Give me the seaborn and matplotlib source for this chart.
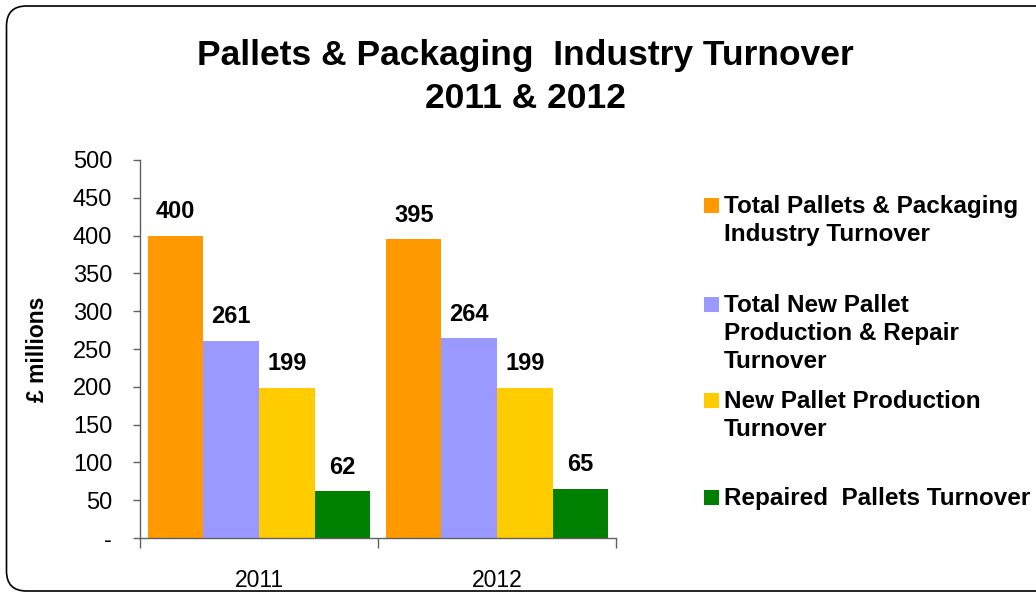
import matplotlib
matplotlib.use("Agg")
import matplotlib.pyplot as plt
from matplotlib.patches import FancyBboxPatch, Rectangle
import seaborn as sns
import pandas as pd

# Turnover figures (GBP millions)
years = ["2011", "2012"]
series = [
    "Total Pallets & Packaging\nIndustry Turnover",
    "Total New Pallet\nProduction & Repair\nTurnover",
    "New Pallet Production\nTurnover",
    "Repaired  Pallets Turnover",
]
values_2011 = [400, 261, 199, 62]
values_2012 = [395, 264, 199, 65]
colors = ["#FF9900", "#9999FF", "#FFCC00", "#008000"]
y_ticks = [0, 50, 100, 150, 200, 250, 300, 350, 400, 450, 500]
y_tick_labels = ["-", "50", "100", "150", "200", "250", "300", "350", "400", "450", "500"]

rows = []
for yr, vals in zip(years, [values_2011, values_2012]):
    for s, v in zip(series, vals):
        rows.append({"year": yr, "series": s, "value": v})
df = pd.DataFrame(rows)

sns.set_theme(style="white")
plt.rcParams["font.family"] = ["Liberation Sans", "DejaVu Sans"]
plt.rcParams.update({"text.color": "black", "axes.labelcolor": "black",
                     "xtick.color": "black", "ytick.color": "black"})

fig = plt.figure(figsize=(10.36, 5.92), dpi=100)
ax = fig.add_axes([140 / 1036, 54 / 592, 476 / 1036, 378 / 592])

sns.barplot(data=df, x="year", y="value", hue="series", hue_order=series,
            palette=colors, saturation=1, width=0.933, legend=False, ax=ax,
            linewidth=0, edgecolor="none")

for cont in ax.containers:
    ax.bar_label(cont, fmt="%d", padding=9, fontsize=17, fontweight="bold")

ax.set_ylim(0, 500)
ax.set_xlim(-0.5, 1.5)
ax.set_yticks(y_ticks)
ax.set_yticklabels(y_tick_labels, fontsize=17)
ax.set_xticks([-0.5, 0.5, 1.5])
ax.set_xticklabels([])
ax.set_xticks([0, 1], minor=True)
ax.set_xticklabels(years, minor=True, fontsize=16.5)
ax.tick_params(axis="x", which="major", direction="out", length=7, width=1,
               color="#606060", bottom=True)
ax.tick_params(axis="x", which="minor", length=0, pad=22)
ax.tick_params(axis="y", direction="out", length=5, width=1, color="#606060",
               left=True, pad=15, labelcolor="black")
ax.set_xlabel("")
ax.set_ylabel("£ millions", fontsize=16.5, fontweight="bold")
ax.yaxis.set_label_coords(38 / 1036, 1 - 349 / 592, transform=fig.transFigure)
ax.yaxis.label.set_verticalalignment("center")
for side in ["top", "right"]:
    ax.spines[side].set_visible(False)
for side in ["left", "bottom"]:
    ax.spines[side].set_color("#606060")
    ax.spines[side].set_linewidth(1)

fig.text(525 / 1036, 1 - 77 / 592, "Pallets & Packaging  Industry Turnover\n2011 & 2012",
         ha="center", va="center", fontsize=25.5, fontweight="bold", linespacing=1.35)

# Legend built from the series names and colours, one block per series
legend_tops = [198, 297, 393, 490]
for name, col, top in zip(series, colors, legend_tops):
    fig.patches.append(Rectangle((704 / 1036, 1 - (top + 15) / 592), 15 / 1036, 15 / 592,
                                 transform=fig.transFigure, facecolor=col,
                                 edgecolor="none"))
    fig.text(724 / 1036, 1 - (top - 3) / 592, name, ha="left", va="top",
             fontsize=17.5, fontweight="bold", linespacing=1.27)

# Rounded outer frame
frame = FancyBboxPatch((0.065, 0.01), 10.6, 5.85,
                       boxstyle="round,pad=0,rounding_size=0.2",
                       transform=fig.dpi_scale_trans, facecolor="none",
                       edgecolor="black", linewidth=1.2, clip_on=False)
fig.patches.append(frame)

fig.savefig("out.png", dpi=100)
